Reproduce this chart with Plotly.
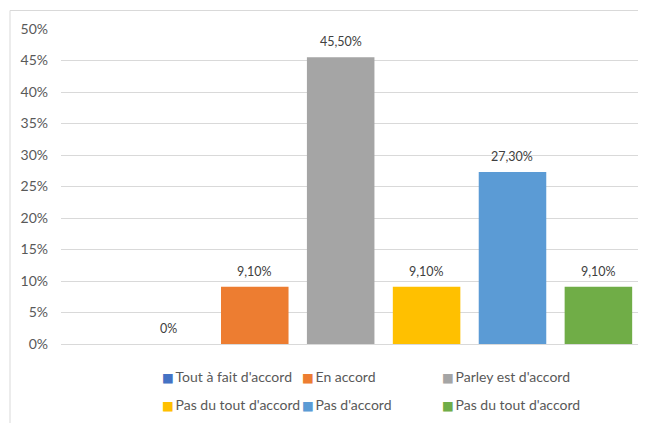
import plotly.graph_objects as go

categories = ["Tout à fait d'accord", "En accord", "Parley est d'accord",
              "Pas du tout d'accord", "Pas d'accord", "Pas du tout d'accord"]
values = [0.0, 0.091, 0.455, 0.091, 0.273, 0.091]
colors = ["#4472C4", "#ED7D31", "#A5A5A5", "#FFC000", "#5B9BD5", "#70AD47"]
legend_ids = ["legend", "legend", "legend", "legend2", "legend2", "legend2"]
y_ticks = [0, 0.05, 0.10, 0.15, 0.20, 0.25, 0.30, 0.35, 0.40, 0.45, 0.50]


def fmt(v):
    if v == 0:
        return "0%"
    return f"{v * 100:.2f}".replace(".", ",") + "%"


FONT = "Lato"
OFF = 8  # page body margin
W, H = 646 - OFF, 423 - OFF
ML, MR, MT, MB = 61 - OFF, 0, 29 - OFF, 423 - 344
PW, PH = W - ML - MR, H - MT - MB
N = len(values)
GROUPGAP = 0.214


def px_x(p):
    return (p - OFF - ML) / PW


def px_y(p):
    return (H - MB - (p - OFF)) / PH


fig = go.Figure()
for i, (name, v, c, lg) in enumerate(zip(categories, values, colors, legend_ids)):
    fig.add_trace(go.Bar(
        x=["g"], y=[v], name=name,
        marker=dict(color=c, line=dict(width=0)),
        showlegend=False, hoverinfo="skip",
    ))
    # legend entry: coloured square glyph followed by the label
    fig.add_trace(go.Scatter(
        x=[None], y=[None], mode="none",
        name=f'<span style="color:{c};font-family:DejaVu Sans;font-size:12.5px">■</span>\u2009{name}',
        legend=lg, showlegend=True, hoverinfo="skip",
        legendwidth=150 if i % 3 == 2 else None,
    ))

annotations = []
for i, v in enumerate(values):
    annotations.append(dict(
        x=(i - (N - 1) / 2) / N, y=v, xref="x", yref="y",
        text=fmt(v), showarrow=False, yanchor="bottom", yshift=6,
        font=dict(family=FONT, size=12.5, color="#404040"),
    ))

legend_common = dict(
    orientation="h", xanchor="left", yanchor="top",
    entrywidth=95, entrywidthmode="pixels",
    font=dict(family=FONT, size=14, color="#595959"),
    bgcolor="rgba(0,0,0,0)", borderwidth=0,
)

fig.update_layout(
    width=W, height=H,
    margin=dict(l=ML, r=MR, t=MT, b=MB, autoexpand=False),
    paper_bgcolor="white", plot_bgcolor="white",
    barmode="group", bargap=0, bargroupgap=GROUPGAP,
    showlegend=True,
    legend=dict(x=px_x(122), y=px_y(361), **legend_common),
    legend2=dict(x=px_x(122), y=px_y(389), **legend_common),
    xaxis=dict(type="category", range=[-0.6259, 0.509], showticklabels=False,
               showgrid=False, showline=False, zeroline=False, fixedrange=True),
    yaxis=dict(range=[0, 0.5], tickvals=y_ticks, tickformat=".0%",
               showgrid=True, gridcolor="#D9D9D9", gridwidth=1,
               zeroline=True, zerolinecolor="#D9D9D9", zerolinewidth=1,
               showline=False, ticks="", ticklabelstandoff=12,
               tickfont=dict(family=FONT, size=14, color="#595959")),
    annotations=annotations,
    shapes=[dict(type="rect", xref="paper", yref="paper",
                 x0=px_x(10), x1=px_x(660), y0=px_y(440), y1=px_y(10.5),
                 line=dict(color="#D9D9D9", width=1), fillcolor="rgba(0,0,0,0)",
                 layer="below")],
)

fig.write_html("out.html")
